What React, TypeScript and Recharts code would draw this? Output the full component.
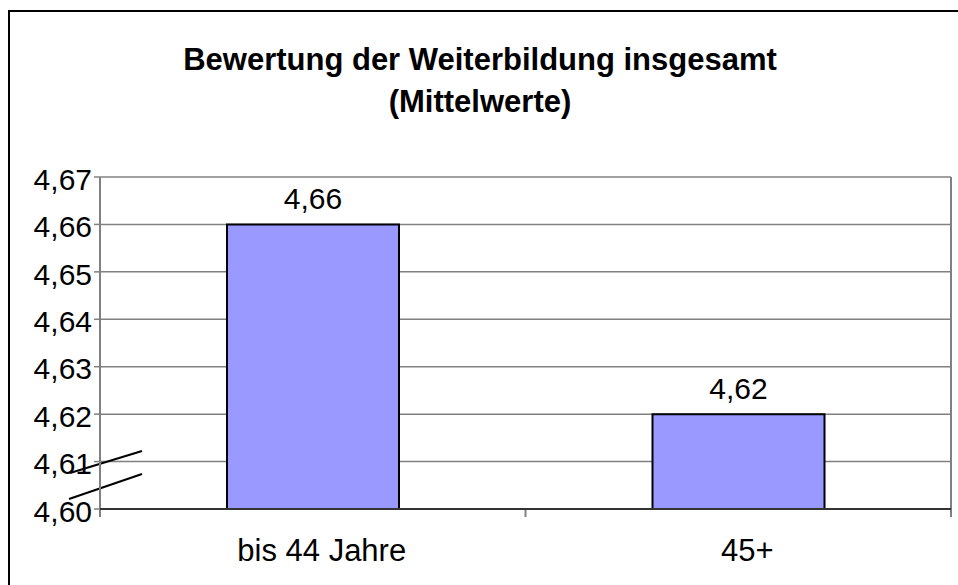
import React from 'react';
import { BarChart, Bar, XAxis, YAxis, CartesianGrid, LabelList, Customized } from 'recharts';

const categories = ['bis 44 Jahre', '45+'];
const values = [4.66, 4.62];
const yTicks = [4.6, 4.61, 4.62, 4.63, 4.64, 4.65, 4.66, 4.67];
const titleLines = ['Bewertung der Weiterbildung insgesamt', '(Mittelwerte)'];

const data = categories.map((c, i) => ({ name: c, value: values[i] }));
const fmt = (v: number) => Number(v).toFixed(2).replace('.', ',');

const W = 958;
const H = 585;
const PLOT_LEFT = 100;
const PLOT_RIGHT = 951;
const PLOT_TOP = 177;
const PLOT_BOTTOM = 509;
const FONT = '"Liberation Sans", Arial, Helvetica, sans-serif';

const Deco = () => {
  const mid = (PLOT_LEFT + PLOT_RIGHT) / 2;
  return (
    <g>
      <path d={`M9,${H + 20} L9,11 L${W + 20},11`} fill="none" stroke="#000" strokeWidth={2} />
      <text x={480} y={70} textAnchor="middle" fontFamily={FONT} fontWeight="bold" fontSize={31} fill="#000">
        {titleLines[0]}
      </text>
      <text x={480} y={112} textAnchor="middle" fontFamily={FONT} fontWeight="bold" fontSize={31} fill="#000">
        {titleLines[1]}
      </text>
      <line x1={PLOT_RIGHT} y1={PLOT_TOP} x2={PLOT_RIGHT} y2={PLOT_BOTTOM + 8} stroke="#808080" strokeWidth={2} />
      <line x1={PLOT_LEFT} y1={PLOT_BOTTOM} x2={PLOT_LEFT} y2={PLOT_BOTTOM + 8} stroke="#808080" strokeWidth={2} />
      <line x1={mid} y1={PLOT_BOTTOM} x2={mid} y2={PLOT_BOTTOM + 8} stroke="#808080" strokeWidth={2} />
      <line x1={70} y1={473} x2={142} y2={451} stroke="#000" strokeWidth={2} />
      <line x1={69} y1={499} x2={142} y2={474} stroke="#000" strokeWidth={2} />
    </g>
  );
};

export default function App() {
  return (
    <div style={{ position: 'absolute', left: 0, top: 0, width: W, height: H, background: '#fff', overflow: 'hidden' }}>
      <BarChart
        width={W}
        height={H}
        data={data}
        margin={{ top: PLOT_TOP, right: W - PLOT_RIGHT, left: 0, bottom: 0 }}
        barSize={172}
      >
        <CartesianGrid vertical={false} stroke="#808080" strokeWidth={1.5} />
        <YAxis
          width={PLOT_LEFT}
          domain={[4.6, 4.67]}
          ticks={yTicks}
          interval={0}
          tickFormatter={fmt}
          tickSize={6}
          tickMargin={2}
          tickLine={{ stroke: '#808080', strokeWidth: 1.5 }}
          axisLine={{ stroke: '#808080', strokeWidth: 2 }}
          tick={{ fontSize: 30, fill: '#000', fontFamily: FONT, dy: 2 }}
        />
        <XAxis
          dataKey="name"
          height={H - PLOT_BOTTOM}
          tickSize={0}
          tickMargin={30}
          tickLine={false}
          axisLine={{ stroke: '#333', strokeWidth: 2 }}
          tick={{ fontSize: 31, fill: '#000', fontFamily: FONT, dx: 9 }}
        />
        <Bar dataKey="value" fill="#9999FF" stroke="#000" strokeWidth={2} isAnimationActive={false}>
          <LabelList
            dataKey="value"
            position="top"
            offset={15}
            formatter={(v: any) => fmt(v)}
            style={{ fontSize: 30, fill: '#000', fontFamily: FONT }}
          />
        </Bar>
        <Customized component={<Deco />} />
      </BarChart>
    </div>
  );
}
